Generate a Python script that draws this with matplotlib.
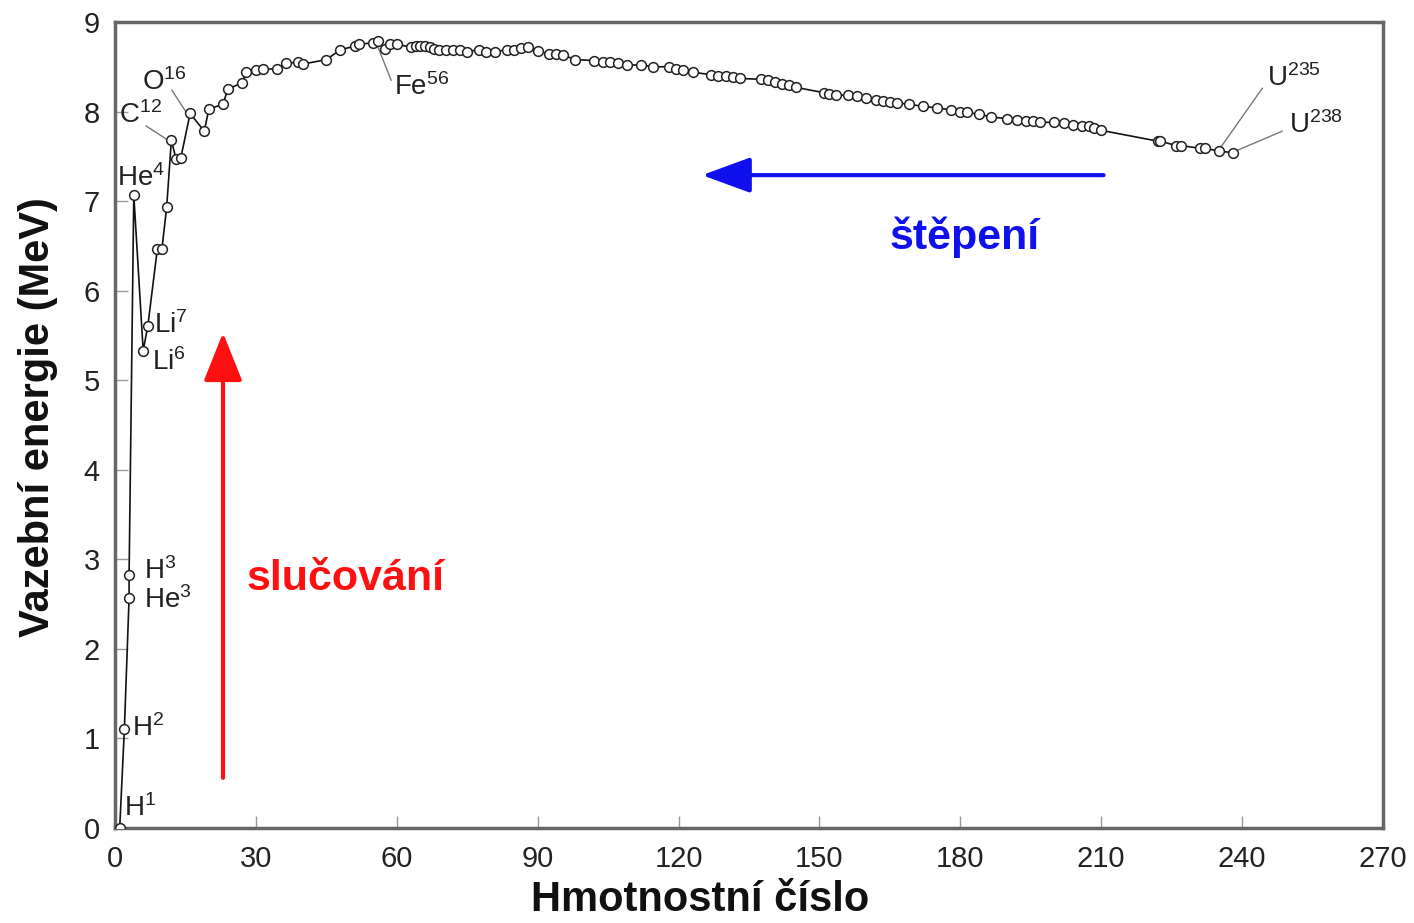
import matplotlib
matplotlib.use("Agg")
import matplotlib.pyplot as plt

plt.rcParams['font.family'] = ['Liberation Sans', 'DejaVu Sans']
plt.rcParams['mathtext.fontset'] = 'custom'
plt.rcParams['mathtext.rm'] = 'Liberation Sans'
plt.rcParams['mathtext.default'] = 'regular'

# Mass number (A) and binding energy per nucleon (MeV)
mass_number = [1, 2, 3, 3, 4, 6, 7, 9, 10, 11, 12, 13, 14, 16, 19, 20, 23, 24, 27, 28,
               30, 31.5, 34.5, 36.5, 39, 40, 45, 48, 51, 52, 55, 56, 57.5, 58.5, 60,
               63, 64, 65, 66, 67, 68, 69, 70.5, 72, 73.5, 75, 77.5, 79, 81, 83.5, 85,
               86.5, 88, 90, 92.5, 94, 95.5, 98, 102, 104, 105.5, 107, 109, 112, 114.5,
               118, 119.5, 121, 123, 127, 128.5, 130, 131.5, 133, 137.5, 139, 140.5,
               142, 143.5, 145, 151, 152, 153.5, 156, 158, 160, 162, 163.5, 165, 166.5,
               169, 172, 175, 178, 180, 181.5, 184, 186.5, 190, 192, 194, 195.5, 197,
               200, 202, 204, 206, 207.5, 208.5, 210, 222, 222.5, 226, 227, 231, 232,
               235, 238]
binding_energy = [0.0, 1.11, 2.57, 2.83, 7.07, 5.33, 5.61, 6.46, 6.47, 6.93, 7.68, 7.47,
                  7.48, 7.98, 7.78, 8.03, 8.08, 8.25, 8.32, 8.44, 8.46, 8.47, 8.48, 8.54,
                  8.55, 8.53, 8.58, 8.69, 8.73, 8.75, 8.77, 8.79, 8.70, 8.75, 8.75,
                  8.72, 8.73, 8.73, 8.73, 8.72, 8.70, 8.69, 8.69, 8.69, 8.69, 8.67, 8.69,
                  8.67, 8.67, 8.69, 8.69, 8.71, 8.72, 8.68, 8.64, 8.64, 8.63, 8.58, 8.57,
                  8.55, 8.55, 8.54, 8.52, 8.52, 8.50, 8.50, 8.47, 8.46, 8.44, 8.41, 8.40,
                  8.40, 8.39, 8.37, 8.36, 8.35, 8.33, 8.31, 8.30, 8.27, 8.21, 8.20, 8.19,
                  8.18, 8.17, 8.15, 8.13, 8.12, 8.11, 8.10, 8.08, 8.06, 8.04, 8.02, 8.00,
                  7.99, 7.97, 7.94, 7.92, 7.91, 7.90, 7.90, 7.88, 7.88, 7.87, 7.85, 7.84,
                  7.84, 7.82, 7.79, 7.67, 7.67, 7.62, 7.62, 7.59, 7.59, 7.56, 7.54]

x_ticks = [0, 30, 60, 90, 120, 150, 180, 210, 240, 270]
y_ticks = [0, 1, 2, 3, 4, 5, 6, 7, 8, 9]

# Nuclide labels: text, label position (A, E)
nuclide_labels = ['H$^{1}$', 'H$^{2}$', 'H$^{3}$', 'He$^{3}$', 'He$^{4}$', 'Li$^{6}$', 'Li$^{7}$',
                  'C$^{12}$', 'O$^{16}$', 'Fe$^{56}$', 'U$^{235}$', 'U$^{238}$']
label_x = [1.9, 3.7, 6.2, 6.2, 0.5, 7.8, 8.4, 0.9, 5.8, 59.5, 245.3, 250.0]
label_y = [0.22, 1.12, 2.87, 2.55, 7.26, 5.20, 5.62, 7.96, 8.33, 8.27, 8.37, 7.85]
# leader lines (from point to label): start A, start E, end A, end E
leader_x0 = [11.3, 15.3, 56.0, 235.3, 239.1]
leader_y0 = [7.68, 7.98, 8.72, 7.59, 7.57]
leader_x1 = [6.6, 12.1, 58.8, 244.3, 248.5]
leader_y1 = [7.84, 8.24, 8.35, 8.26, 7.78]

fig = plt.figure(figsize=(14.14, 9.23), dpi=100)
ax = fig.add_axes([115/1414, 1 - 828/923, (1383-115)/1414, (828-22)/923])

ax.plot(mass_number, binding_energy, '-', color='#111111', lw=1.2,
        marker='o', markersize=7, markerfacecolor='white',
        markeredgecolor='#222222', markeredgewidth=1.1, zorder=3)

for x0, y0, x1, y1 in zip(leader_x0, leader_y0, leader_x1, leader_y1):
    ax.plot([x0, x1], [y0, y1], color='#777777', lw=1.0, zorder=2)

for t, x, y in zip(nuclide_labels, label_x, label_y):
    ax.text(x, y, t, fontsize=20, color='#222222', ha='left', va='center', zorder=4)

# arrows
ax.annotate('', xy=(23, 5.53), xytext=(23, 0.56),
            arrowprops=dict(arrowstyle='-|>,head_length=3.0,head_width=1.2',
                            mutation_scale=10, lw=3, color='#ff1010',
                            shrinkA=0, shrinkB=0))
ax.annotate('', xy=(125.0, 7.29), xytext=(210.5, 7.29),
            arrowprops=dict(arrowstyle='-|>,head_length=3.0,head_width=1.1',
                            mutation_scale=10, lw=3, color='#1010ee',
                            shrinkA=0, shrinkB=0))
ax.text(49.0, 2.78, 'slučování', color='#ff1010', fontsize=31, fontweight='bold',
        ha='center', va='center')
ax.text(181.0, 6.60, 'štěpení', color='#1010ee', fontsize=31, fontweight='bold',
        ha='center', va='center')

ax.set_xlim(0, 270)
ax.set_ylim(0, 9)
ax.set_xticks(x_ticks)
ax.set_yticks(y_ticks)
ax.tick_params(direction='in', length=9, width=1, color='#999999',
               labelsize=21, labelcolor='#222222')
ax.tick_params(axis='x', pad=12)
ax.tick_params(axis='y', pad=11)
for s in ax.spines.values():
    s.set_color('#666666')
    s.set_linewidth(2.5)

fig.text(700/1414, 1 - 900/923, 'Hmotnostní číslo', fontsize=30, fontweight='bold',
         ha='center', va='center', color='#111111')
fig.text(38/1414, 1 - 417/923, 'Vazební energie (MeV)', fontsize=30, fontweight='bold',
         ha='center', va='center', rotation=90, color='#111111')

fig.savefig('out.png', dpi=100)
